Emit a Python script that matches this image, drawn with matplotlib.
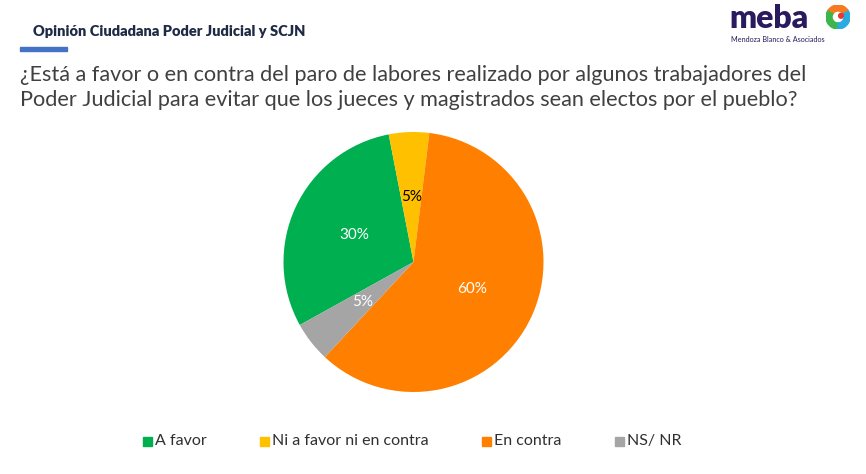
import matplotlib
matplotlib.use("Agg")
import matplotlib.pyplot as plt
from matplotlib.patches import Rectangle, Wedge

categories = ["A favor", "Ni a favor ni en contra", "En contra", "NS/ NR"]
values = [30, 5, 60, 5]
labels = ["30%", "5%", "60%", "5%"]
colors = ["#00B050", "#FFC000", "#FF8000", "#A5A5A5"]
label_colors = ["white", "black", "white", "white"]

W, H = 866, 474
fig = plt.figure(figsize=(W / 100, H / 100), dpi=100)
fig.patch.set_facecolor("white")

def fx(x):
    return x / W

def fy(y):
    return 1 - y / H

# Header
fig.text(fx(33), fy(31), "Opinión Ciudadana Poder Judicial y SCJN", fontsize=10.5,
         fontweight="heavy", family="Lato", color="#1F2A44", va="center", ha="left")
fig.patches.append(Rectangle((fx(20), fy(51)), fx(47), 4 / H, transform=fig.transFigure,
                             color="#4472C4", zorder=3))

# Title
fig.text(fx(20), fy(75), "¿Está a favor o en contra del paro de labores realizado por algunos trabajadores del",
         fontsize=15.6, family="Lato", color="#404040", va="center", ha="left")
fig.text(fx(20), fy(100), "Poder Judicial para evitar que los jueces y magistrados sean electos por el pueblo?",
         fontsize=15.6, family="Lato", color="#404040", va="center", ha="left")

# Logo
fig.text(fx(729), fy(18), "meba", fontsize=23, fontweight="heavy", family="Lato",
         color="#2A1A5E", va="center", ha="left")
fig.text(fx(731), fy(40), "Mendoza Blanco & Asociados", fontsize=5.2, family="Lato",
         color="#2A1A5E", va="center", ha="left")
lax = fig.add_axes([fx(826), fy(29), 24 / W, 24 / H])
lax.set_xlim(-1, 1)
lax.set_ylim(-1, 1)
lax.set_aspect("equal")
lax.axis("off")
for th1, th2, c in [(30, 150, "#F47B20"), (150, 270, "#3CB54A"), (270, 390, "#29ABE2")]:
    lax.add_patch(Wedge((0, 0), 1.0, th1, th2, width=0.5, color=c))
lax.add_patch(plt.Circle((0.25, 0.1), 0.2, color="#E53935"))

# Pie
cx, cy, r = 413.5, 262, 130
ax = fig.add_axes([fx(cx - r), fy(cy + r), 2 * r / W, 2 * r / H])
wedges, texts, autotexts = ax.pie(values, colors=colors, startangle=209, counterclock=False,
                                  autopct="%1.0f%%", pctdistance=0.5,
                                  wedgeprops=dict(linewidth=0))
for t, lab, c in zip(autotexts, labels, label_colors):
    t.set_text(lab)
    t.set_color(c)
    t.set_fontsize(11)
    t.set_family("Lato")
ax.set_xlim(-1, 1)
ax.set_ylim(-1, 1)
ax.set_aspect("equal")

# Legend
leg_x = [143, 260, 482, 615]
for x, cat, c in zip(leg_x, categories, colors):
    fig.patches.append(Rectangle((fx(x), fy(446)), 9 / W, 9 / H, transform=fig.transFigure,
                                 color=c))
    fig.text(fx(x + 12), fy(441), cat, fontsize=11.5, family="Lato", color="#303030",
             va="center", ha="left")

fig.savefig("out.png", dpi=100)
